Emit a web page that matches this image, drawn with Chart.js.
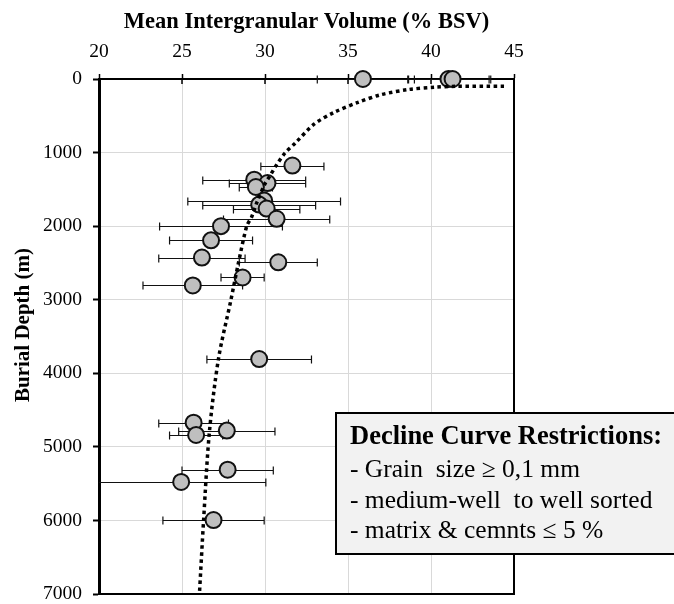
<!DOCTYPE html>
<html lang="en">
<head>
    <meta charset="UTF-8">
    <title>Mean Intergranular Volume vs Burial Depth</title>
    <style>
        body {
            margin: 0;
            background: #fff;
        }
        .wrap {
            width: 674px;
            height: 604px;
        }
    </style>
    <script src="https://cdn.jsdelivr.net/npm/chart.js"></script>
</head>
<body>
    <div class="wrap">
        <canvas id="igvChart" width="674" height="604"></canvas>
    </div>
    <script>
        // Sample means (IGV, % BSV) and burial depth (m)
        const igvMean = [35.9, 41.05, 41.3, 31.65, 29.35, 30.15, 29.45, 29.95, 29.65, 30.1, 30.7, 27.35,
                         26.75, 26.2, 30.8, 28.65, 25.65, 29.65, 25.7, 27.7, 25.85, 27.75, 24.95, 26.9];
        const burialDepth = [0, 0, 0, 1176, 1369, 1414, 1468, 1653, 1707, 1761, 1900, 2000,
                             2193, 2427, 2491, 2698, 2806, 3806, 4671, 4779, 4838, 5311, 5477, 5995];
        // half width of the horizontal error bars
        const igvError = [2.75, 2.45, 2.3, 1.9, 3.1, 2.3, 1.0, 4.6, 3.4, 2.0, 3.2, 3.7,
                          2.5, 2.6, 2.35, 1.3, 3.0, 3.15, 2.1, 2.9, 1.6, 2.75, 5.1, 3.05];

        // Decline curve
        const curveIgv = [44.4, 41.5, 40.2, 38.65, 37.0, 35.6, 34.15, 32.95, 31.85, 31.2, 30.7,
                          30.3, 30.0, 29.5, 29.2, 28.9, 28.4, 27.95, 27.2, 26.65, 26.3, 26.05];
        const curveDepth = [99, 99, 112, 143, 212, 318, 455, 615, 865, 1008, 1166,
                            1315, 1423, 1684, 1873, 2000, 2500, 3000, 3800, 4800, 6000, 7000];

        const xTicks = [20, 25, 30, 35, 40, 45];
        const yTicks = [0, 1000, 2000, 3000, 4000, 5000, 6000, 7000];

        const restrictions = [
            'Decline Curve Restrictions:',
            '- Grain  size \u2265 0,1 mm',
            '- medium-well  to well sorted',
            '- matrix & cemnts \u2264 5 %'
        ];

        const serif = "'Liberation Serif', 'Times New Roman', serif";

        // frame, crossing ticks, error bars, y title and the text box
        const extras = {
            id: 'extras',
            beforeDatasetsDraw(chart) {
                const {ctx, chartArea: a, scales: {x, y}} = chart;
                ctx.save();
                ctx.strokeStyle = '#000';
                ctx.lineWidth = 2;
                ctx.beginPath();
                ctx.moveTo(a.right, a.top);
                ctx.lineTo(a.right, a.bottom);
                ctx.lineTo(a.left - 1, a.bottom);
                ctx.stroke();

                ctx.lineWidth = 1.5;
                ctx.beginPath();
                xTicks.forEach(v => {
                    const px = x.getPixelForValue(v);
                    ctx.moveTo(px, a.top);
                    ctx.lineTo(px, a.top + 5);
                });
                ctx.stroke();

                ctx.beginPath();
                ctx.rect(a.left, 0, a.right - a.left + 2, chart.height);
                ctx.clip();
                ctx.lineWidth = 1.2;
                ctx.strokeStyle = '#111';
                ctx.beginPath();
                igvMean.forEach((m, i) => {
                    const py = Math.round(y.getPixelForValue(burialDepth[i])) + 0.5;
                    const x1 = x.getPixelForValue(m - igvError[i]);
                    const x2 = x.getPixelForValue(m + igvError[i]);
                    ctx.moveTo(x1, py);
                    ctx.lineTo(x2, py);
                    ctx.moveTo(x1, py - 4);
                    ctx.lineTo(x1, py + 4);
                    ctx.moveTo(x2, py - 4);
                    ctx.lineTo(x2, py + 4);
                });
                ctx.stroke();
                ctx.restore();
            },
            afterDraw(chart) {
                const ctx = chart.ctx;
                ctx.save();
                // y axis title
                ctx.translate(23.5, 325);
                ctx.rotate(-Math.PI / 2);
                ctx.fillStyle = '#000';
                ctx.font = 'bold 21px ' + serif;
                ctx.textAlign = 'center';
                ctx.textBaseline = 'middle';
                ctx.fillText('Burial Depth (m)', 0, 0);
                ctx.restore();

                // restrictions box
                ctx.save();
                ctx.fillStyle = '#f2f2f2';
                ctx.fillRect(336, 413, 400, 141);
                ctx.strokeStyle = '#000';
                ctx.lineWidth = 2;
                ctx.strokeRect(336, 413, 400, 141);
                ctx.fillStyle = '#000';
                ctx.textAlign = 'left';
                ctx.textBaseline = 'alphabetic';
                const baselines = [444, 477, 508, 538];
                restrictions.forEach((t, i) => {
                    ctx.font = i === 0 ? 'bold 26.5px ' + serif : '25.5px ' + serif;
                    ctx.fillText(t, 350, baselines[i]);
                });
                ctx.restore();
            }
        };

        const ctx = document.getElementById('igvChart').getContext('2d');
        const chart = new Chart(ctx, {
            data: {
                datasets: [
                    {
                        type: 'line',
                        label: 'Decline curve',
                        data: curveIgv.map((v, i) => ({x: v, y: curveDepth[i]})),
                        borderColor: '#000',
                        borderWidth: 3.5,
                        borderDash: [3.5, 3.5],
                        borderCapStyle: 'butt',
                        pointRadius: 0,
                        tension: 0.3,
                        fill: false
                    },
                    {
                        type: 'scatter',
                        label: 'IGV',
                        data: igvMean.map((v, i) => ({x: v, y: burialDepth[i]})),
                        backgroundColor: '#bfbfbf',
                        borderColor: '#111',
                        borderWidth: 2,
                        pointRadius: 8,
                        clip: false
                    }
                ]
            },
            options: {
                responsive: false,
                animation: false,
                layout: {
                    padding: {left: 0, top: 0, right: 160, bottom: 10}
                },
                plugins: {
                    legend: {display: false},
                    tooltip: {enabled: false}
                },
                scales: {
                    x: {
                        type: 'linear',
                        position: 'top',
                        min: 20,
                        max: 45,
                        afterBuildTicks: s => { s.ticks = xTicks.map(v => ({value: v})); },
                        afterFit: s => {
                            s.height = 79;
                            s.paddingLeft = 0;
                            s.paddingRight = 0;
                        },
                        ticks: {
                            color: '#000',
                            padding: 10,
                            font: {family: serif, size: 19.5}
                        },
                        grid: {
                            color: '#d9d9d9',
                            tickColor: '#000',
                            tickLength: 5,
                            tickWidth: 1.5
                        },
                        border: {color: '#000', width: 2},
                        title: {
                            display: true,
                            text: 'Mean Intergranular Volume (% BSV)',
                            color: '#000',
                            font: {family: serif, size: 22.5, weight: 'bold'},
                            padding: {top: 9, bottom: 0}
                        }
                    },
                    y: {
                        type: 'linear',
                        reverse: true,
                        min: 0,
                        max: 7000,
                        afterBuildTicks: s => { s.ticks = yTicks.map(v => ({value: v})); },
                        afterFit: s => {
                            s.width = 99;
                            s.paddingTop = 0;
                            s.paddingBottom = 0;
                        },
                        ticks: {
                            color: '#000',
                            padding: 11,
                            font: {family: serif, size: 19.5},
                            callback: v => String(v)
                        },
                        grid: {
                            color: '#d9d9d9',
                            tickColor: '#000',
                            tickLength: 6,
                            tickWidth: 2
                        },
                        border: {color: '#000', width: 3}
                    }
                }
            },
            plugins: [extras]
        });
    </script>
</body>
</html>
